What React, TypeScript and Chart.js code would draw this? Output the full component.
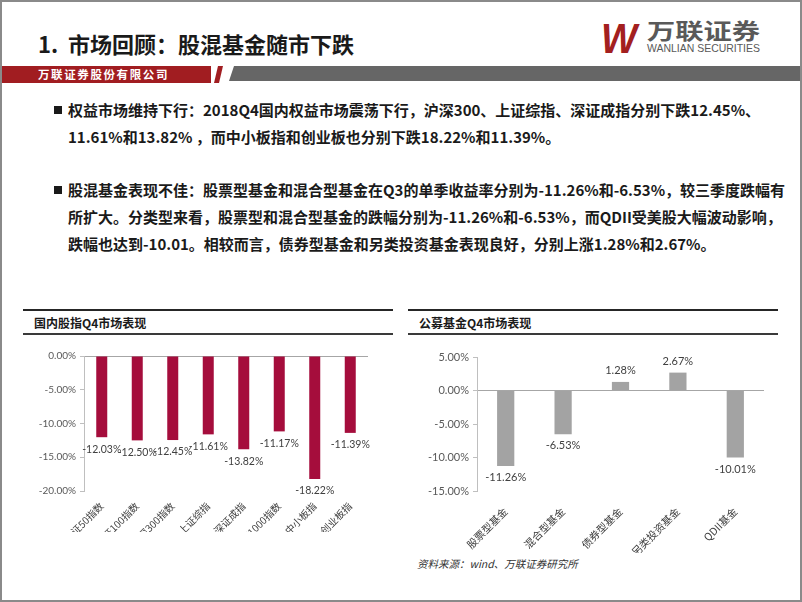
import React, { useEffect, useRef } from 'react';
import { Chart, registerables } from 'chart.js';

Chart.register(...registerables);

// ---------- data ----------
const indexCategories = ['上证50指数', '中证100指数', '沪深300指数', '上证综指', '深证成指', '中证1000指数', '中小板指', '创业板指'];
const indexReturns = [-12.03, -12.5, -12.45, -11.61, -13.82, -11.17, -18.22, -11.39];
const indexTicks = [0, -5, -10, -15, -20];

const fundCategories = ['股票型基金', '混合型基金', '债券型基金', '另类投资基金', 'QDII基金'];
const fundReturns = [-11.26, -6.53, 1.28, 2.67, -10.01];
const fundTicks = [5, 0, -5, -10, -15];

const pageTitle = '1.  市场回顾：股混基金随市下跌';
const companyName = '万联证券股份有限公司';
const bullet1Lines = [
  '权益市场维持下行：2018Q4国内权益市场震荡下行，沪深300、上证综指、深证成指分别下跌12.45%、',
  '11.61%和13.82% ，而中小板指和创业板也分别下跌18.22%和11.39%。',
];
const bullet2Lines = [
  '股混基金表现不佳：股票型基金和混合型基金在Q3的单季收益率分别为-11.26%和-6.53%，较三季度跌幅有',
  '所扩大。分类型来看，股票型和混合型基金的跌幅分别为-11.26%和-6.53%，而QDII受美股大幅波动影响，',
  '跌幅也达到-10.01。相较而言，债券型基金和另类投资基金表现良好，分别上涨1.28%和2.67%。',
];
const leftPanelTitle = '国内股指Q4市场表现';
const rightPanelTitle = '公募基金Q4市场表现';
const sourceNote = '资料来源：wind、万联证券研究所';

const CJK = '"Noto Sans CJK SC", "Noto Sans", sans-serif';
const NUM = 'Lato, "Liberation Sans", sans-serif';

function valueLabelPlugin(font: string, offset: number) {
  return {
    id: 'valueLabels',
    afterDatasetsDraw(chart: any) {
      const ctx = chart.ctx;
      const meta = chart.getDatasetMeta(0);
      const data = chart.data.datasets[0].data as number[];
      ctx.save();
      ctx.font = font;
      ctx.fillStyle = '#404040';
      ctx.textAlign = 'center';
      ctx.textBaseline = 'middle';
      meta.data.forEach((el: any, i: number) => {
        const v = data[i];
        const p = el.getProps(['x', 'y'], true);
        ctx.fillText(v.toFixed(2) + '%', p.x, v < 0 ? p.y + offset : p.y - offset);
      });
      ctx.restore();
    },
  };
}

interface BarOpts {
  labels: string[];
  values: number[];
  ticks: number[];
  color: string;
  yWidth: number;
  xHeight: number;
  padding: any;
  tickSize: number;
  labelSize: number;
  xSize: number;
  xPad: number;
  barPct: number;
  labelOffset: number;
}

function BarChart(props: BarOpts & { width: number; height: number }) {
  const ref = useRef<HTMLCanvasElement | null>(null);
  useEffect(() => {
    if (!ref.current) return;
    const o = props;
    const chart = new Chart(ref.current, {
      type: 'bar',
      data: {
        labels: o.labels,
        datasets: [
          {
            data: o.values,
            backgroundColor: o.color,
            categoryPercentage: 1,
            barPercentage: o.barPct,
          },
        ],
      },
      options: {
        animation: false,
        responsive: false,
        maintainAspectRatio: false,
        layout: { padding: o.padding },
        plugins: { legend: { display: false }, tooltip: { enabled: false } },
        scales: {
          x: {
            grid: { display: false },
            border: { display: false },
            ticks: {
              autoSkip: false,
              minRotation: 45,
              maxRotation: 45,
              padding: o.xPad,
              color: '#404040',
              font: { family: CJK, size: o.xSize },
            },
            afterFit(s: any) {
              s.height = o.xHeight;
            },
          },
          y: {
            min: Math.min(...o.ticks),
            max: Math.max(...o.ticks),
            ticks: {
              stepSize: 5,
              padding: 4,
              color: '#595959',
              font: { family: NUM, size: o.tickSize },
              callback: (v: any) => Number(v).toFixed(2) + '%',
            },
            grid: {
              color: (c: any) => (c.tick && c.tick.value === 0 ? '#a6a6a6' : 'rgba(0,0,0,0)'),
              tickColor: '#bfbfbf',
              tickLength: 4,
            },
            border: { display: true, color: '#bfbfbf' },
            afterFit(s: any) {
              s.width = o.yWidth;
            },
          },
        },
      } as any,
      plugins: [valueLabelPlugin(`${o.labelSize}px ${NUM}`, o.labelOffset)],
    });
    return () => chart.destroy();
  }, []);
  return <canvas ref={ref} width={props.width} height={props.height} style={{ display: 'block' }} />;
}

function Bullet({ top, lines }: { top: number; lines: string[] }) {
  return (
    <div style={{ position: 'absolute', left: 0, top }}>
      <div style={{ position: 'absolute', left: 54, top: 10, width: 8, height: 8, background: '#1a1a1a' }} />
      {lines.map((l, i) => (
        <div
          key={i}
          style={{
            position: 'absolute',
            left: 68,
            top: i * 27,
            whiteSpace: 'nowrap',
            fontFamily: CJK,
            fontWeight: 700,
            fontSize: 15,
            lineHeight: '28px',
            color: '#1a1a1a',
          }}
        >
          {l}
        </div>
      ))}
    </div>
  );
}

function PanelHeader({ left, width, title }: { left: number; width: number; title: string }) {
  return (
    <>
      <div style={{ position: 'absolute', left, top: 309, width, height: 2, background: '#262626' }} />
      <div
        style={{
          position: 'absolute',
          left: left + 11,
          top: 314,
          fontFamily: CJK,
          fontWeight: 700,
          fontSize: 12,
          lineHeight: '18px',
          color: '#1a1a1a',
          whiteSpace: 'nowrap',
        }}
      >
        {title}
      </div>
      <div style={{ position: 'absolute', left, top: 333, width, height: 2, background: '#3a3a3a' }} />
    </>
  );
}

export default function App() {
  return (
    <div
      style={{
        position: 'fixed',
        left: 0,
        top: 0,
        width: 802,
        height: 602,
        background: '#fff',
        overflow: 'hidden',
        boxSizing: 'border-box',
        border: '2px solid #8a8a8a',
      }}
    >
      <div style={{ position: 'absolute', left: -2, top: -2, width: 802, height: 602 }}>
        <svg width={802} height={90} style={{ position: 'absolute', left: 0, top: 0 }}>
          <rect x={0} y={66} width={211} height={17} fill="#a11d21" />
          <polygon points="214,83 218,66 223,66 219,83" fill="#a11d21" />
          <polygon points="229,81 234,66 802,66 802,81" fill="#666666" />
          <text
            x={38}
            y={79}
            fill="#ffffff"
            fontFamily={CJK}
            fontWeight={700}
            fontSize={11.5}
            letterSpacing={1.6}
          >
            {companyName}
          </text>
          <text
            x={601}
            y={53}
            fill="#a3201f"
            fontFamily='"Liberation Sans", Arial, sans-serif'
            fontWeight={700}
            fontStyle="italic"
            fontSize={42}
            textLength={36}
            lengthAdjust="spacingAndGlyphs"
          >
            W
          </text>
          <text
            x={647}
            y={39}
            fill="#595959"
            fontFamily={CJK}
            fontWeight={700}
            fontSize={22}
            textLength={113}
            lengthAdjust="spacingAndGlyphs"
          >
            万联证券
          </text>
          <text
            x={647}
            y={52}
            fill="#595959"
            fontFamily='"Liberation Sans", Arial, sans-serif'
            fontSize={11.5}
            textLength={113}
            lengthAdjust="spacingAndGlyphs"
          >
            WANLIAN SECURITIES
          </text>
        </svg>
        <div
          style={{
            position: 'absolute',
            left: 38,
            top: 27,
            fontFamily: CJK,
            fontWeight: 700,
            fontSize: 22,
            lineHeight: '32px',
            color: '#1a1a1a',
            whiteSpace: 'pre',
          }}
        >
          {pageTitle}
        </div>

        <Bullet top={96} lines={bullet1Lines} />
        <Bullet top={176} lines={bullet2Lines} />

        <PanelHeader left={23} width={370} title={leftPanelTitle} />
        <PanelHeader left={408} width={370} title={rightPanelTitle} />

        <div style={{ position: 'absolute', left: 10, top: 345, width: 370, height: 187, overflow: 'hidden' }}>
          <BarChart
            width={370}
            height={206}
            labels={indexCategories}
            values={indexReturns}
            ticks={indexTicks}
            color="#a50d3c"
            yWidth={74}
            xHeight={60}
            padding={{ top: 11, right: 12, left: 0, bottom: 0 }}
            tickSize={10}
            labelSize={10.5}
            xSize={10}
            xPad={1}
            barPct={0.31}
            labelOffset={12}
          />
        </div>
        <div style={{ position: 'absolute', left: 400, top: 345, width: 378, height: 208 }}>
          <BarChart
            width={378}
            height={208}
            labels={fundCategories}
            values={fundReturns}
            ticks={fundTicks}
            color="#a3a3a3"
            yWidth={77}
            xHeight={62}
            padding={{ top: 12, right: 14, left: 0, bottom: 0 }}
            tickSize={11}
            labelSize={11}
            xSize={10.5}
            xPad={6}
            barPct={0.3}
            labelOffset={11.5}
          />
        </div>
        <div
          style={{
            position: 'absolute',
            left: 417,
            top: 556,
            fontFamily: CJK,
            fontStyle: 'italic',
            fontSize: 10.5,
            lineHeight: '16px',
            color: '#333',
            whiteSpace: 'nowrap',
          }}
        >
          {sourceNote}
        </div>
      </div>
    </div>
  );
}
